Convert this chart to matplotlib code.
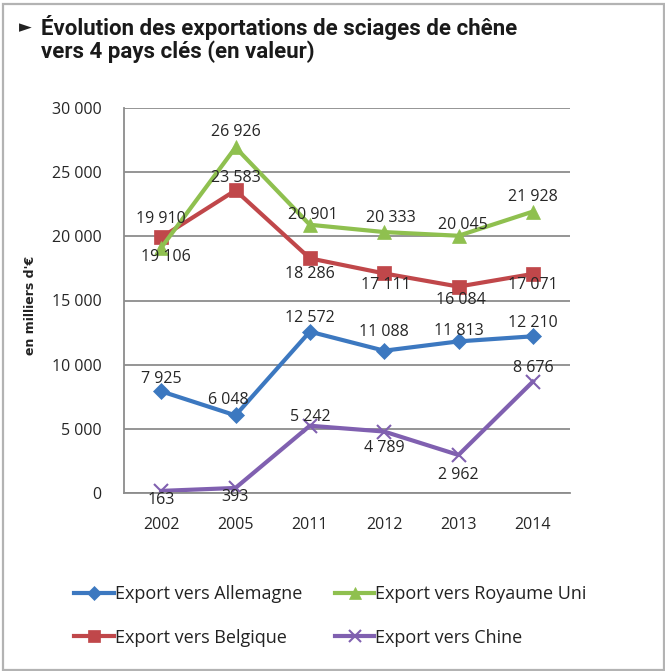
import matplotlib
matplotlib.use("Agg")
import matplotlib.pyplot as plt
from matplotlib.patches import Rectangle

years = ["2002", "2005", "2011", "2012", "2013", "2014"]
allemagne = [7925, 6048, 12572, 11088, 11813, 12210]
royaume_uni = [19106, 26926, 20901, 20333, 20045, 21928]
belgique = [19910, 23583, 18286, 17111, 16084, 17071]
chine = [163, 393, 5242, 4789, 2962, 8676]
yticks = [0, 5000, 10000, 15000, 20000, 25000, 30000]
ytick_labels = ["0", "5 000", "10 000", "15 000", "20 000", "25 000", "30 000"]

# label vertical offsets in pixels (negative = above)
off_all = [-12, -15, -14, -19, -10, -13]
off_ru = [9, -15, -10, -14, -11, -15]
off_be = [-18, -12, 16, 12, 13, 11]
off_ch = [9, 9, -9, 16, 20, -14]
xoff_ru = [5, 0, 3, 7, 4, 0]
xoff_be = [0, 0, 0, 2, 2, 0]
xoff_all = [0, -7, 0, 0, 0, 0]

W, H = 665, 671
fig = plt.figure(figsize=(W / 100, H / 100), dpi=100)
fig.patch.set_facecolor("white")

fig.add_artist(Rectangle((3 / W, 1 - 670 / H), 661 / W, 666 / H, transform=fig.transFigure,
                         fill=False, edgecolor="#b3b3b3", linewidth=1.6))

ax = fig.add_axes([124 / W, 1 - 493 / H, 446 / W, 385 / H])
x = list(range(len(years)))

FONT = "Open Sans"
TXT = "#262626"

series = [
    (allemagne, "#3c78c0", "D", 8, "Export vers Allemagne", off_all, xoff_all),
    (belgique, "#c0474a", "s", 9.5, "Export vers Belgique", off_be, xoff_be),
    (royaume_uni, "#8fc04f", "^", 10, "Export vers Royaume Uni", off_ru, xoff_ru),
    (chine, "#8060b0", "x", 10, "Export vers Chine", off_ch, [0] * 6),
]
handles = {}
for vals, col, mk, ms, lab, offs, xoffs in series:
    h, = ax.plot(x, vals, color=col, linewidth=3, marker=mk, markersize=ms,
                 markeredgewidth=1.5 if mk == "x" else 0.5, markeredgecolor=col, label=lab)
    handles[lab] = h
    for xi, v, o, xo in zip(x, vals, offs, xoffs):
        s = f"{v:,}".replace(",", " ")
        ax.annotate(s, (xi, v), xytext=(xo * 0.72, -o * 0.72), textcoords="offset points",
                    ha="center", va="center", fontsize=11.5, color=TXT, family=FONT)

ax.set_xlim(-0.5, 5.5)
ax.set_ylim(0, 30000)
ax.set_yticks(yticks)
ax.set_yticklabels(ytick_labels, family=FONT, fontsize=11.5, color=TXT)
ax.set_xticks(x)
ax.set_xticklabels(years, family=FONT, fontsize=11.5, color=TXT)
ax.tick_params(length=0)
ax.tick_params(axis="y", pad=16)
ax.tick_params(axis="x", pad=17)
ax.grid(axis="y", color="#8c8c8c", linewidth=1.3)
ax.set_axisbelow(True)
for sp in ["top", "right"]:
    ax.spines[sp].set_visible(False)
for sp in ["left", "bottom"]:
    ax.spines[sp].set_color("#8c8c8c")
    ax.spines[sp].set_linewidth(1.3)

fig.text(30 / W, 1 - 305 / H, "en milliers d'€", rotation=90, ha="center", va="center",
         fontsize=9, fontweight="bold", color="#222222", family="DejaVu Sans")

fig.text(25 / W, 1 - 27 / H, "►", ha="center", va="center", fontsize=12, color="#222222",
         family="DejaVu Sans")
fig.text(41 / W, 1 - 27 / H, "Évolution des exportations de sciages de chêne", ha="left",
         va="center", fontsize=16, fontweight="bold", color="#1a1a1a", family="Roboto")
fig.text(41 / W, 1 - 52 / H, "vers 4 pays clés (en valeur)", ha="left",
         va="center", fontsize=16, fontweight="bold", color="#1a1a1a", family="Roboto")

order = ["Export vers Allemagne", "Export vers Belgique", "Export vers Royaume Uni", "Export vers Chine"]
leg = fig.legend([handles[k] for k in order], order, ncol=2, loc="center left",
                 bbox_to_anchor=(58 / W, 1 - 616 / H), frameon=False,
                 prop={"family": FONT, "size": 13}, handlelength=2.2, handletextpad=0.05,
                 columnspacing=1.8, labelspacing=1.4, labelcolor="#222222", markerscale=0.85)

fig.savefig("out.png", dpi=100, facecolor="white")
